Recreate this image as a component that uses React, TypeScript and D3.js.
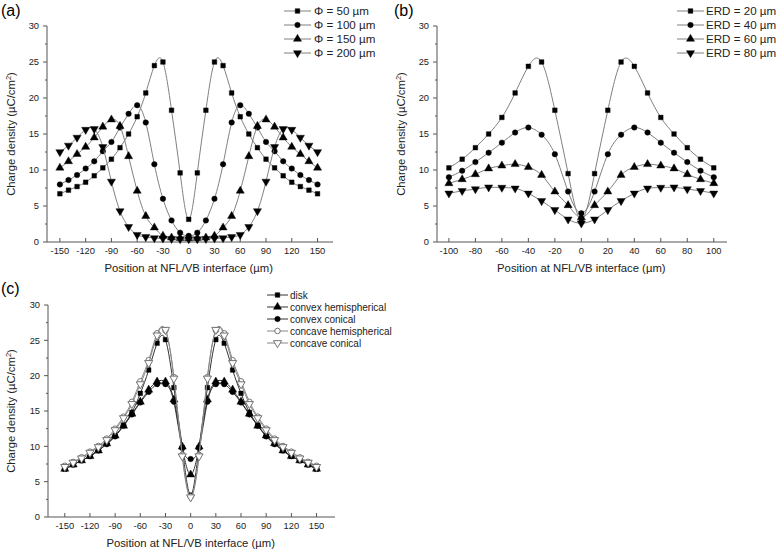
import React from 'react';
import * as d3 from 'd3';

const FONT = "'Liberation Sans', Arial, Helvetica, sans-serif";

// ---------- Data ----------
const posA = [-150,-140,-130,-120,-110,-100,-90,-80,-70,-60,-50,-40,-30,-20,-10,0,10,20,30,40,50,60,70,80,90,100,110,120,130,140,150];
const phi50 = [6.7,7.2,7.7,8.3,9.2,10.3,11.5,13.1,15.0,17.4,20.7,24.5,25.0,18.3,9.6,3.15,9.6,18.3,25.0,24.5,20.7,17.4,15.0,13.1,11.5,10.3,9.2,8.3,7.7,7.2,6.7];
const phi100 = [8.0,8.6,9.3,10.2,11.2,12.6,13.9,15.9,17.8,19.0,16.6,10.8,6.0,3.0,1.3,0.85,1.3,3.0,6.0,10.8,16.6,19.0,17.8,15.9,13.9,12.6,11.2,10.2,9.3,8.6,8.0];
const phi150 = [10.3,11.2,12.2,13.2,14.5,16.0,17.0,16.1,11.9,7.1,3.6,2.0,0.85,0.6,0.55,0.5,0.55,0.6,0.85,2.0,3.6,7.1,11.9,16.1,17.0,16.0,14.5,13.2,12.2,11.2,10.3];
const phi200 = [12.5,13.4,14.5,15.6,15.7,13.2,8.4,4.3,2.1,1.0,0.7,0.55,0.5,0.45,0.4,0.4,0.4,0.45,0.5,0.55,0.7,1.0,2.1,4.3,8.4,13.2,15.7,15.6,14.5,13.4,12.5];
const legendA = ['\u03A6 = 50 \u00B5m', '\u03A6 = 100 \u00B5m', '\u03A6 = 150 \u00B5m', '\u03A6 = 200 \u00B5m'];
const xTicksA = [-150,-120,-90,-60,-30,0,30,60,90,120,150];

const posB = [-100,-90,-80,-70,-60,-50,-40,-30,-20,-10,0,10,20,30,40,50,60,70,80,90,100];
const erd20 = [10.3,11.5,13.1,15.0,17.3,20.7,24.4,25.0,18.3,9.5,3.15,9.5,18.3,25.0,24.4,20.7,17.3,15.0,13.1,11.5,10.3];
const erd40 = [9.0,9.9,11.1,12.4,13.8,15.2,15.9,14.9,12.2,7.0,4.0,7.0,12.2,14.9,15.9,15.2,13.8,12.4,11.1,9.9,9.0];
const erd60 = [8.15,8.7,9.4,10.2,10.6,10.8,10.4,9.3,7.0,5.1,3.4,5.1,7.0,9.3,10.4,10.8,10.6,10.2,9.4,8.7,8.15];
const erd80 = [6.75,7.1,7.35,7.6,7.55,7.45,6.75,5.7,4.45,3.15,2.6,3.15,4.45,5.7,6.75,7.45,7.55,7.6,7.35,7.1,6.75];
const legendB = ['ERD = 20 \u00B5m', 'ERD = 40 \u00B5m', 'ERD = 60 \u00B5m', 'ERD = 80 \u00B5m'];
const xTicksB = [-100,-80,-60,-40,-20,0,20,40,60,80,100];

const posC = posA;
const disk = [6.8,7.4,8.0,8.6,9.4,10.4,11.5,13.0,14.8,17.5,20.8,24.6,25.1,18.3,9.8,3.1,9.8,18.3,25.1,24.6,20.8,17.5,14.8,13.0,11.5,10.4,9.4,8.6,8.0,7.4,6.8];
const convHemi = [6.8,7.4,8.0,8.6,9.4,10.4,11.5,12.9,14.6,16.3,18.0,19.15,19.15,16.6,9.95,6.0,9.95,16.6,19.15,19.15,18.0,16.3,14.6,12.9,11.5,10.4,9.4,8.6,8.0,7.4,6.8];
const convCon = [6.8,7.4,8.0,8.6,9.4,10.3,11.4,12.9,14.5,16.2,17.7,18.8,18.8,16.3,9.8,8.2,9.8,16.3,18.8,18.8,17.7,16.2,14.5,12.9,11.4,10.3,9.4,8.6,8.0,7.4,6.8];
const concHemi = [7.25,7.8,8.45,9.25,10.05,11.1,12.5,14.2,16.3,19.2,22.2,26.0,26.4,19.8,8.8,2.9,8.8,19.8,26.4,26.0,22.2,19.2,16.3,14.2,12.5,11.1,10.05,9.25,8.45,7.8,7.25];
const concCon = [7.1,7.7,8.3,9.1,9.9,10.9,12.3,14.0,16.0,18.8,21.8,25.7,26.5,19.6,8.6,2.8,8.6,19.6,26.5,25.7,21.8,18.8,16.0,14.0,12.3,10.9,9.9,9.1,8.3,7.7,7.1];
const legendC = ['disk', 'convex hemispherical', 'convex conical', 'concave hemispherical', 'concave conical'];

const yTicks = [0,5,10,15,20,25,30];
const yMinor = [2.5,7.5,12.5,17.5,22.5,27.5];
const xTitle = 'Position at NFL/VB interface (\u00B5m)';

type Sym = 'square' | 'circle' | 'up' | 'down';
type Series = { name: string; values: number[]; sym: Sym; open?: boolean; line: string };

function Marker({ x, y, sym, open, size }: { x: number; y: number; sym: Sym; open?: boolean; size: number }) {
  const type = sym === 'square' ? d3.symbolSquare : sym === 'circle' ? d3.symbolCircle : d3.symbolTriangle;
  const s = sym === 'square' ? size * 0.9 : sym === 'circle' ? size : size * 1.2;
  const d = d3.symbol().type(type).size(s)() || '';
  const rot = sym === 'down' ? ' rotate(180)' : '';
  return (
    <path
      d={d}
      transform={`translate(${x},${y})${rot}`}
      fill={open ? '#fff' : '#000'}
      stroke={open ? '#666' : '#000'}
      strokeWidth={open ? 0.9 : 0.4}
    />
  );
}

type PanelProps = {
  xr: [number, number];
  yr: [number, number];
  xd: [number, number];
  pos: number[];
  xTicks: number[];
  series: Series[];
  legend: { x1: number; x2: number; tx: number; y0: number; dy: number; fs: number };
  label: { text: string; x: number; y: number };
  yTitleX: number;
  msize: number;
};

function Panel(p: PanelProps) {
  const x = d3.scaleLinear().domain(p.xd).range(p.xr);
  const y = d3.scaleLinear().domain([0, 30]).range(p.yr);
  const line = d3
    .line<[number, number]>()
    .x((d) => x(d[0]))
    .y((d) => y(d[1]))
    .curve(d3.curveNatural);
  const axY = p.xr[0];
  const axX = p.yr[0];
  const midY = (p.yr[0] + p.yr[1]) / 2;
  const midX = (x(p.xTicks[0]) + x(p.xTicks[p.xTicks.length - 1])) / 2;
  return (
    <g>
      <text x={p.label.x} y={p.label.y} fontSize={16} fontFamily={FONT} fill="#000">{p.label.text}</text>
      {/* axes */}
      <line x1={axY} x2={axY} y1={y(0)} y2={y(30)} stroke="#555" strokeWidth={1} />
      <line x1={p.xr[0]} x2={p.xr[1]} y1={axX} y2={axX} stroke="#555" strokeWidth={1} />
      {yTicks.map((t) => (
        <g key={'yt' + t}>
          <line x1={axY - 4} x2={axY} y1={y(t)} y2={y(t)} stroke="#555" />
          <text x={axY - 8} y={y(t) + 3.3} fontSize={9.3} fontFamily={FONT} textAnchor="end" fill="#222">{t}</text>
        </g>
      ))}
      {yMinor.map((t) => (
        <line key={'ym' + t} x1={axY - 2} x2={axY} y1={y(t)} y2={y(t)} stroke="#555" />
      ))}
      {p.xTicks.map((t) => (
        <g key={'xt' + t}>
          <line x1={x(t)} x2={x(t)} y1={axX} y2={axX - 4} stroke="#555" />
          <text x={x(t)} y={axX + 12} fontSize={9.3} fontFamily={FONT} textAnchor="middle" fill="#222">{t}</text>
        </g>
      ))}
      <text x={midX} y={axX + 30} fontSize={11.3} fontFamily={FONT} textAnchor="middle" fill="#222">{xTitle}</text>
      <text transform={`translate(${p.yTitleX},${midY}) rotate(-90)`} fontSize={11.3} fontFamily={FONT} textAnchor="middle" fill="#222">
        Charge density ({'\u00B5'}C/cm<tspan fontSize={7.5} dy={-4.5}>2</tspan><tspan dy={4.5}>)</tspan>
      </text>
      {/* series */}
      {p.series.map((s, i) => {
        const pts: [number, number][] = p.pos.map((v, j) => [v, s.values[j]]);
        return (
          <g key={'s' + i}>
            <path d={line(pts) || ''} fill="none" stroke={s.line} strokeWidth={1} />
            {pts.map((d, j) => (
              <Marker key={j} x={x(d[0])} y={y(d[1])} sym={s.sym} open={s.open} size={p.msize} />
            ))}
          </g>
        );
      })}
      {/* legend */}
      {p.series.map((s, i) => {
        const ly = p.legend.y0 + i * p.legend.dy;
        const mx = (p.legend.x1 + p.legend.x2) / 2;
        return (
          <g key={'lg' + i}>
            <line x1={p.legend.x1} x2={p.legend.x2} y1={ly} y2={ly} stroke={s.line} strokeWidth={1} />
            <Marker x={mx} y={ly} sym={s.sym} open={s.open} size={p.msize} />
            <text x={p.legend.tx} y={ly + p.legend.fs * 0.36} fontSize={p.legend.fs} fontFamily={FONT} fill="#222">{s.name}</text>
          </g>
        );
      })}
    </g>
  );
}

export default function App() {
  const gray = '#808080';
  const seriesA: Series[] = [
    { name: legendA[0], values: phi50, sym: 'square', line: gray },
    { name: legendA[1], values: phi100, sym: 'circle', line: gray },
    { name: legendA[2], values: phi150, sym: 'up', line: gray },
    { name: legendA[3], values: phi200, sym: 'down', line: gray },
  ];
  const seriesB: Series[] = [
    { name: legendB[0], values: erd20, sym: 'square', line: gray },
    { name: legendB[1], values: erd40, sym: 'circle', line: gray },
    { name: legendB[2], values: erd60, sym: 'up', line: gray },
    { name: legendB[3], values: erd80, sym: 'down', line: gray },
  ];
  const seriesC: Series[] = [
    { name: legendC[0], values: disk, sym: 'square', line: '#333' },
    { name: legendC[1], values: convHemi, sym: 'up', line: '#333' },
    { name: legendC[2], values: convCon, sym: 'circle', line: '#333' },
    { name: legendC[3], values: concHemi, sym: 'circle', open: true, line: '#888' },
    { name: legendC[4], values: concCon, sym: 'down', open: true, line: '#888' },
  ];
  return (
    <svg width={778} height={551} style={{ position: 'absolute', left: 0, top: 0, background: '#fff' }}>
      <rect width={778} height={551} fill="#fff" />
      <Panel
        xr={[47, 333]} yr={[242, 26]} xd={[-165, 168]} pos={posA} xTicks={xTicksA} series={seriesA}
        legend={{ x1: 284, x2: 311, tx: 314, y0: 11, dy: 14, fs: 11.6 }}
        label={{ text: '(a)', x: 1, y: 16 }} yTitleX={15} msize={24}
      />
      <Panel
        xr={[437, 727]} yr={[242, 26]} xd={[-109, 110]} pos={posB} xTicks={xTicksB} series={seriesB}
        legend={{ x1: 677, x2: 704, tx: 706, y0: 11, dy: 14, fs: 11.6 }}
        label={{ text: '(b)', x: 394, y: 16 }} yTitleX={405} msize={24}
      />
      <Panel
        xr={[48, 335]} yr={[517, 305]} xd={[-170, 172]} pos={posC} xTicks={xTicksA} series={seriesC}
        legend={{ x1: 267, x2: 288, tx: 290, y0: 295, dy: 12, fs: 10 }}
        label={{ text: '(c)', x: 1, y: 294 }} yTitleX={15} msize={24}
      />
    </svg>
  );
}
